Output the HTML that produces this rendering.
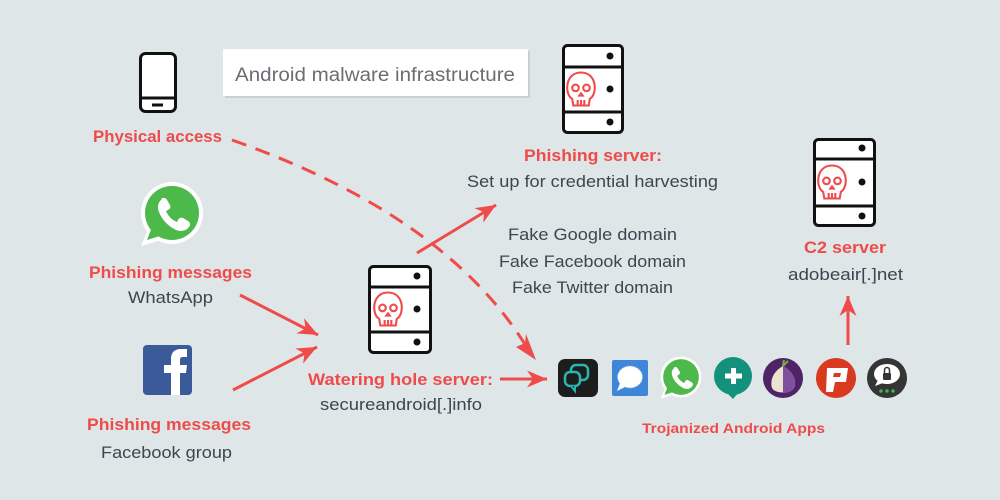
<!DOCTYPE html>
<html><head><meta charset="utf-8"><style>
html,body{margin:0;padding:0;background:#dfe6e7;}
svg{display:block;}
text{font-family:"Liberation Sans",sans-serif;}
.r{fill:#ef4b4b;font-weight:bold;font-size:17px;}
.g{fill:#3f4550;font-size:16.5px;}
</style></head><body>
<svg width="1000" height="500" viewBox="0 0 1000 500" xmlns="http://www.w3.org/2000/svg">
<defs>
<marker id="ah" markerWidth="24" markerHeight="22" refX="0" refY="0" viewBox="-22 -11 24 22" orient="auto" markerUnits="userSpaceOnUse">
<path d="M0,0 L-20,-8.5 L-14,0 L-20,8.5 Z" fill="#ef4b4b"/>
</marker>
</defs>
<rect width="1000" height="500" fill="#dfe6e7"/>

<!-- title box -->
<rect x="225" y="51" width="305" height="47" fill="#c9d0d3"/>
<rect x="223" y="49" width="305" height="47" fill="#ffffff"/>
<text x="235" y="81" font-size="19" fill="#6a6e72" textLength="280" lengthAdjust="spacingAndGlyphs">Android malware infrastructure</text>

<!-- phone -->
<rect x="140.5" y="53.5" width="35" height="58" rx="5" fill="#fff" stroke="#111" stroke-width="3"/>
<line x1="141" y1="98" x2="175" y2="98" stroke="#111" stroke-width="3"/>
<line x1="152" y1="105" x2="163" y2="105" stroke="#111" stroke-width="3"/>
<text class="r" x="93" y="142" textLength="129" lengthAdjust="spacingAndGlyphs">Physical access</text>

<!-- whatsapp big -->
<g transform="translate(172,213)">
<circle r="31" fill="#fff"/>
<path d="M-24,16 L-31,33 L-11,27 Z" fill="#fff"/>
<circle r="27" fill="#4cb94a"/>
<path d="M-20,14 L-25,27 L-9,22 Z" fill="#4cb94a"/>
<path d="M-11,-14 c2,-2 5,-1 6,1 l3,5 c1,2 0,4 -2,5 l-2,1 c2,5 6,9 11,11 l1,-2 c1,-2 3,-3 5,-2 l5,3 c2,1 3,4 1,6 c-3,4 -8,5 -13,3 c-8,-4 -14,-10 -17,-18 c-2,-5 -1,-10 3,-13 z" fill="#fff"/>
</g>
<text class="r" x="89" y="278" textLength="163" lengthAdjust="spacingAndGlyphs">Phishing messages</text>
<text class="g" x="128" y="303" textLength="85" lengthAdjust="spacingAndGlyphs">WhatsApp</text>

<!-- facebook -->
<rect x="143" y="345" width="49" height="50" rx="4" fill="#3b5a9a"/>
<path d="M171,395 L171,373 L164,373 L164,365 L171,365 L171,359 C171,352 175,349 181,349 L187,349 L187,357 L183,357 C181,357 180,358 180,360 L180,365 L187,365 L186,373 L180,373 L180,395 Z" fill="#fff"/>
<text class="r" x="87" y="430" textLength="164" lengthAdjust="spacingAndGlyphs">Phishing messages</text>
<text class="g" x="101" y="458" textLength="131" lengthAdjust="spacingAndGlyphs">Facebook group</text>

<!-- dashed curve -->
<path d="M232,140 Q445,215 526,346" fill="none" stroke="#ef4b4b" stroke-width="3" stroke-dasharray="15,10"/>
<path d="M536,360 L516,347 L525,343 L526,334 Z" fill="#ef4b4b"/>

<!-- arrows -->
<line x1="240" y1="295" x2="318" y2="335" stroke="#ef4b4b" stroke-width="3" marker-end="url(#ah)"/>
<line x1="233" y1="390" x2="317" y2="347" stroke="#ef4b4b" stroke-width="3" marker-end="url(#ah)"/>
<line x1="417" y1="253" x2="496" y2="205" stroke="#ef4b4b" stroke-width="3" marker-end="url(#ah)"/>
<line x1="500" y1="379" x2="547" y2="379" stroke="#ef4b4b" stroke-width="3" marker-end="url(#ah)"/>
<line x1="848" y1="345" x2="848" y2="296" stroke="#ef4b4b" stroke-width="3" marker-end="url(#ah)"/>

<!-- phishing server -->
<g transform="translate(562,44)">
<rect x="1.5" y="1.5" width="59" height="87" rx="4" fill="#fff" stroke="#111" stroke-width="3"/>
<line x1="2" y1="23" x2="60" y2="23" stroke="#111" stroke-width="3"/>
<line x1="2" y1="68" x2="60" y2="68" stroke="#111" stroke-width="3"/>
<circle cx="48" cy="12" r="3.5" fill="#111"/>
<circle cx="48" cy="45" r="3.5" fill="#111"/>
<circle cx="48" cy="78" r="3.5" fill="#111"/>
<g transform="translate(19,45) scale(1.1)" fill="none" stroke="#ef4b4b" stroke-width="1.9">
<path d="M-8,9 C-15,5 -15,-15 0,-15 C15,-15 15,5 8,9 L7,15 L-7,15 Z"/>
<circle cx="-5" cy="-1" r="3"/><circle cx="5" cy="-1" r="3"/>
<path d="M-1.5,6 L0,4 L1.5,6 Z"/>
<path d="M-3,10 V15 M0,10 V15 M3,10 V15"/>
</g>
</g>
<text class="r" x="524" y="161" textLength="138" lengthAdjust="spacingAndGlyphs">Phishing server:</text>
<text class="g" x="467" y="187" textLength="251" lengthAdjust="spacingAndGlyphs">Set up for credential harvesting</text>
<text class="g" x="508" y="240" textLength="169" lengthAdjust="spacingAndGlyphs">Fake Google domain</text>
<text class="g" x="499" y="267" textLength="187" lengthAdjust="spacingAndGlyphs">Fake Facebook domain</text>
<text class="g" x="512" y="293" textLength="161" lengthAdjust="spacingAndGlyphs">Fake Twitter domain</text>

<!-- C2 server -->
<g transform="translate(813,138)">
<rect x="1.5" y="1.5" width="60" height="86" rx="4" fill="#fff" stroke="#111" stroke-width="3"/>
<line x1="2" y1="21" x2="61" y2="21" stroke="#111" stroke-width="3"/>
<line x1="2" y1="68" x2="61" y2="68" stroke="#111" stroke-width="3"/>
<circle cx="49" cy="10" r="3.5" fill="#111"/>
<circle cx="49" cy="44" r="3.5" fill="#111"/>
<circle cx="49" cy="78" r="3.5" fill="#111"/>
<g transform="translate(19,44) scale(1.1)" fill="none" stroke="#ef4b4b" stroke-width="1.9">
<path d="M-8,9 C-15,5 -15,-15 0,-15 C15,-15 15,5 8,9 L7,15 L-7,15 Z"/>
<circle cx="-5" cy="-1" r="3"/><circle cx="5" cy="-1" r="3"/>
<path d="M-1.5,6 L0,4 L1.5,6 Z"/>
<path d="M-3,10 V15 M0,10 V15 M3,10 V15"/>
</g>
</g>
<text class="r" x="804" y="253" textLength="82" lengthAdjust="spacingAndGlyphs">C2 server</text>
<text class="g" x="788" y="280" textLength="115" lengthAdjust="spacingAndGlyphs">adobeair[.]net</text>

<!-- watering hole server -->
<g transform="translate(368,265)">
<rect x="1.5" y="1.5" width="61" height="86" rx="4" fill="#fff" stroke="#111" stroke-width="3"/>
<line x1="2" y1="22" x2="62" y2="22" stroke="#111" stroke-width="3"/>
<line x1="2" y1="67" x2="62" y2="67" stroke="#111" stroke-width="3"/>
<circle cx="49" cy="11" r="3.5" fill="#111"/>
<circle cx="49" cy="44" r="3.5" fill="#111"/>
<circle cx="49" cy="77" r="3.5" fill="#111"/>
<g transform="translate(20,44) scale(1.1)" fill="none" stroke="#ef4b4b" stroke-width="1.9">
<path d="M-8,9 C-15,5 -15,-15 0,-15 C15,-15 15,5 8,9 L7,15 L-7,15 Z"/>
<circle cx="-5" cy="-1" r="3"/><circle cx="5" cy="-1" r="3"/>
<path d="M-1.5,6 L0,4 L1.5,6 Z"/>
<path d="M-3,10 V15 M0,10 V15 M3,10 V15"/>
</g>
</g>
<text class="r" x="308" y="385" textLength="185" lengthAdjust="spacingAndGlyphs">Watering hole server:</text>
<text class="g" x="320" y="410" textLength="162" lengthAdjust="spacingAndGlyphs">secureandroid[.]info</text>

<!-- app 1 -->
<rect x="558" y="359" width="40" height="38" rx="7" fill="#1d1d1d"/>
<rect x="571" y="365" width="17" height="15" rx="5" fill="none" stroke="#2bb5b2" stroke-width="2.5"/>
<rect x="565" y="372" width="15" height="14" rx="5" fill="#1d1d1d" stroke="#2bb5b2" stroke-width="2.5"/>
<path d="M571,386 L575,391 L575,386" fill="#1d1d1d" stroke="#2bb5b2" stroke-width="2"/>
<!-- app 2 signal -->
<rect x="612" y="360" width="36" height="36" rx="2" fill="#3f86d9"/>
<ellipse cx="630" cy="377" rx="12.5" ry="11" fill="#fff" stroke="#8fb8ea" stroke-width="1" stroke-dasharray="2,2"/>
<path d="M620,383 L617,391 L625,387 Z" fill="#fff"/>
<!-- app 3 whatsapp -->
<g transform="translate(681,377) scale(0.66)">
<circle r="31" fill="#fff"/>
<path d="M-24,16 L-31,33 L-11,27 Z" fill="#fff"/>
<circle r="27" fill="#4cb94a"/>
<path d="M-20,14 L-25,27 L-9,22 Z" fill="#4cb94a"/>
<path d="M-11,-14 c2,-2 5,-1 6,1 l3,5 c1,2 0,4 -2,5 l-2,1 c2,5 6,9 11,11 l1,-2 c1,-2 3,-3 5,-2 l5,3 c2,1 3,4 1,6 c-3,4 -8,5 -13,3 c-8,-4 -14,-10 -17,-18 c-2,-5 -1,-10 3,-13 z" fill="#fff"/>
</g>
<!-- app 4 -->
<circle cx="733" cy="376" r="19" fill="#13917c"/>
<path d="M726,392 L733,399 L739,392 Z" fill="#13917c"/>
<rect x="731" y="368" width="5" height="16" fill="#fff"/>
<rect x="725" y="373.5" width="17" height="5" fill="#fff"/>
<!-- app 5 tor -->
<circle cx="783" cy="378" r="20" fill="#4e2466"/>
<path d="M783,366 C772,372 770,382 772,388 C775,394 791,394 794,388 C797,382 794,372 783,366 Z" fill="#e9e3cf"/>
<path d="M783,366 C794,372 797,382 794,388 C792,392 787,393 783,393 Z" fill="#7f4fa0"/>
<path d="M783,366 L784,360 M783,366 L788,361" stroke="#6fb043" stroke-width="2"/>
<!-- app 6 psiphon -->
<circle cx="836" cy="378" r="20" fill="#d8391f"/>
<path d="M827,368 L848,368 L846,382 L835,382 L833,392 L826,392 Z M834,373 L833,377 L840,377 L841,373 Z" fill="#fff" fill-rule="evenodd"/>
<!-- app 7 threema -->
<circle cx="887" cy="378" r="20" fill="#353535"/>
<ellipse cx="887" cy="374" rx="13" ry="10" fill="#fff"/>
<path d="M878,380 L875,386 L883,383 Z" fill="#fff"/>
<rect x="883" y="373" width="8" height="7" rx="1" fill="#353535"/>
<path d="M884.5,373 V370 a2.5,2.5 0 0 1 5,0 V373" fill="none" stroke="#353535" stroke-width="1.5"/>
<circle cx="881" cy="391" r="1.8" fill="#3fb24a"/>
<circle cx="887" cy="391" r="1.8" fill="#3fb24a"/>
<circle cx="893" cy="391" r="1.8" fill="#3fb24a"/>
<text x="642" y="433" fill="#ef4b4b" font-weight="bold" font-size="14" textLength="183" lengthAdjust="spacingAndGlyphs">Trojanized Android Apps</text>
</svg>
</body></html>
